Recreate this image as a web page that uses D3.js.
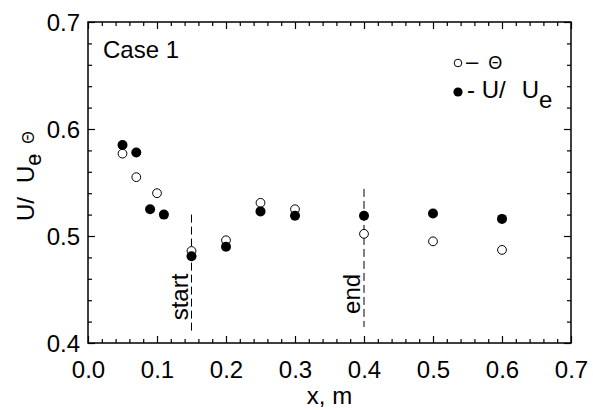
<!DOCTYPE html>
<html><head><meta charset="utf-8">
<script src="https://cdn.jsdelivr.net/npm/d3@7"></script>
<style>
html,body{margin:0;padding:0;background:#fff;}
svg{display:block;}
text{font-family:"Liberation Sans",Arial,sans-serif;fill:#000;}
</style></head>
<body>
<svg id="chart" width="593" height="410"></svg>
<script>
// ---- data ----
const xTheta = [0.05, 0.07, 0.10, 0.15, 0.20, 0.25, 0.30, 0.40, 0.50, 0.60];
const theta  = [0.577, 0.555, 0.540, 0.486, 0.496, 0.531, 0.525, 0.502, 0.495, 0.487];
const xU     = [0.05, 0.07, 0.09, 0.11, 0.15, 0.20, 0.25, 0.30, 0.40, 0.50, 0.60];
const uUe    = [0.585, 0.578, 0.525, 0.520, 0.481, 0.490, 0.523, 0.519, 0.519, 0.521, 0.516];
const markerX      = [0.15, 0.40];
const markerLabels = ["start", "end"];
const markerTop    = [0.520, 0.544];
const markerBottom = [0.409, 0.415];
const xTicks = [0.0, 0.1, 0.2, 0.3, 0.4, 0.5, 0.6, 0.7];
const yTicks = [0.4, 0.5, 0.6, 0.7];
const caseLabel = "Case 1";

// ---- layout ----
const L = 88, R = 571, T = 22, B = 343;
const svg = d3.select("#chart");
const x = d3.scaleLinear().domain([0, 0.7]).range([L, R]);
const y = d3.scaleLinear().domain([0.4, 0.7]).range([B, T]);

const xMinor = d3.range(0, 0.7001, 0.02).map(v => +v.toFixed(2)).filter(v => Math.abs(v*10 - Math.round(v*10)) > 1e-6);
const yMinor = d3.range(0.4, 0.7001, 0.02).map(v => +v.toFixed(2)).filter(v => Math.abs(v*10 - Math.round(v*10)) > 1e-6);

function styleAxis(g){
  g.select(".domain").remove();
  g.selectAll("line").attr("stroke","#000").attr("stroke-width",1.2);
}
// bottom
svg.append("g").attr("transform",`translate(0,${B})`)
  .call(d3.axisBottom(x).tickValues(xTicks).tickSize(-7).tickPadding(18).tickFormat(d3.format(".1f")))
  .call(styleAxis)
  .call(g => g.selectAll("text").attr("font-size",24).attr("dy",0).attr("y",35));
svg.append("g").attr("transform",`translate(0,${B})`)
  .call(d3.axisBottom(x).tickValues(xMinor).tickSize(-4).tickFormat(""))
  .call(styleAxis);
// top
svg.append("g").attr("transform",`translate(0,${T})`)
  .call(d3.axisTop(x).tickValues(xTicks).tickSize(-7).tickFormat(""))
  .call(styleAxis);
svg.append("g").attr("transform",`translate(0,${T})`)
  .call(d3.axisTop(x).tickValues(xMinor).tickSize(-4).tickFormat(""))
  .call(styleAxis);
// left
svg.append("g").attr("transform",`translate(${L},0)`)
  .call(d3.axisLeft(y).tickValues(yTicks).tickSize(-7).tickPadding(8).tickFormat(d3.format(".1f")))
  .call(styleAxis)
  .call(g => g.selectAll("text").attr("font-size",24).attr("dy","0.36em"));
svg.append("g").attr("transform",`translate(${L},0)`)
  .call(d3.axisLeft(y).tickValues(yMinor).tickSize(-4).tickFormat(""))
  .call(styleAxis);
// right
svg.append("g").attr("transform",`translate(${R},0)`)
  .call(d3.axisRight(y).tickValues(yTicks).tickSize(-7).tickFormat(""))
  .call(styleAxis);
svg.append("g").attr("transform",`translate(${R},0)`)
  .call(d3.axisRight(y).tickValues(yMinor).tickSize(-4).tickFormat(""))
  .call(styleAxis);

// frame
svg.append("rect").attr("x",L).attr("y",T).attr("width",R-L).attr("height",B-T)
  .attr("fill","none").attr("stroke","#000").attr("stroke-width",1.5);

// marker lines
markerX.forEach((mx,i) => {
  svg.append("line").attr("x1",x(mx)).attr("x2",x(mx))
    .attr("y1",y(markerTop[i])).attr("y2",y(markerBottom[i]))
    .attr("stroke","#000").attr("stroke-width",1).attr("stroke-dasharray","8,4");
  svg.append("text").attr("font-size",24)
    .attr("transform",`translate(${x(mx)-4},${y(markerBottom[i])-13}) rotate(-90)`)
    .text(markerLabels[i]);
});

// points
svg.append("g").selectAll("circle").data(xTheta.map((d,i)=>[d,theta[i]])).join("circle")
  .attr("cx",d=>x(d[0])).attr("cy",d=>y(d[1])).attr("r",4.4)
  .attr("fill","#fff").attr("stroke","#000").attr("stroke-width",1);
svg.append("g").selectAll("circle").data(xU.map((d,i)=>[d,uUe[i]])).join("circle")
  .attr("cx",d=>x(d[0])).attr("cy",d=>y(d[1])).attr("r",5)
  .attr("fill","#000");

// case label
svg.append("text").attr("x",103).attr("y",58).attr("font-size",24).text(caseLabel);

// legend
svg.append("circle").attr("cx",458).attr("cy",63).attr("r",3.8).attr("fill","#fff").attr("stroke","#000").attr("stroke-width",1);
const lt1 = svg.append("text").attr("x",466).attr("y",69).attr("font-size",22);
lt1.append("tspan").text("–");
lt1.append("tspan").attr("font-size",18).attr("dx",10).text("Θ");
svg.append("circle").attr("cx",458).attr("cy",92).attr("r",4.6).attr("fill","#000");
const lt2 = svg.append("text").attr("x",467).attr("y",98).attr("font-size",24);
lt2.append("tspan").text("- U/");
lt2.append("tspan").attr("dx",16).text("U");
lt2.append("tspan").attr("dy",10).attr("font-size",24).text("e");

// axis titles
svg.append("text").attr("x",(L+R)/2).attr("y",404).attr("text-anchor","middle").attr("font-size",24).text("x,\u00a0m");
const yt = svg.append("text").attr("text-anchor","start").attr("font-size",24)
  .attr("transform","translate(34,221) rotate(-90)");
yt.append("tspan").text("U/");
yt.append("tspan").attr("dx",14).text("U");
yt.append("tspan").attr("dy",7).attr("font-size",22).text("e");
yt.append("tspan").attr("dy",-7).attr("dx",-6).text(",");
yt.append("tspan").attr("dx",9).attr("font-size",16).text("Θ");
</script>
</body></html>
